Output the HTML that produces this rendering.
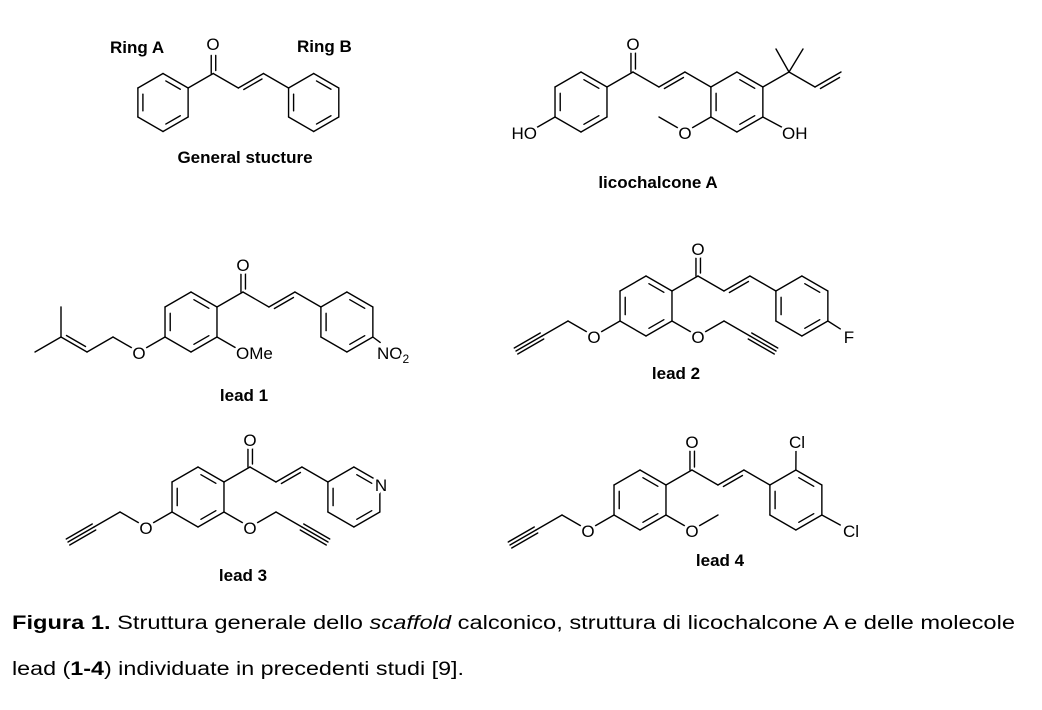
<!DOCTYPE html>
<html><head><meta charset="utf-8"><style>
html,body{margin:0;padding:0;background:#fff;}
svg{display:block}
text{font-family:"Liberation Sans",sans-serif;fill:#000}
.a{font-size:17px;paint-order:stroke;stroke:#fff;stroke-width:6px;stroke-linejoin:round}
.b{font-size:17px;font-weight:bold}
.c{font-size:19px}
</style></head><body>
<svg id="s" width="1042" height="710" viewBox="0 0 1042 710" xmlns="http://www.w3.org/2000/svg">
<g id="g" stroke="#000" stroke-width="1.4" fill="none" stroke-linecap="round"></g>
<text class="b" x="110" y="53">Ring A</text>
<text class="b" x="297" y="52">Ring B</text>
<text class="a" x="213" y="50" text-anchor="middle">O</text>
<text class="b" x="245" y="163" text-anchor="middle">General stucture</text>

<text class="a" x="633" y="50" text-anchor="middle">O</text>
<text class="a" x="537" y="139" text-anchor="end">HO</text>
<text class="a" x="685" y="139" text-anchor="middle">O</text>
<text class="a" x="782" y="139">OH</text>
<text class="b" x="658" y="188" text-anchor="middle">licochalcone A</text>

<text class="a" x="243" y="271" text-anchor="middle">O</text>
<text class="a" x="139" y="359" text-anchor="middle">O</text>
<text class="a" x="236" y="359">OMe</text>
<text class="a" x="377" y="359">NO<tspan font-size="12" dy="4">2</tspan></text>
<text class="b" x="244" y="401" text-anchor="middle">lead 1</text>

<text class="a" x="698" y="255" text-anchor="middle">O</text>
<text class="a" x="594" y="343" text-anchor="middle">O</text>
<text class="a" x="698" y="343" text-anchor="middle">O</text>
<text class="a" x="849" y="343" text-anchor="middle">F</text>
<text class="b" x="676" y="379" text-anchor="middle">lead 2</text>

<text class="a" x="250" y="446" text-anchor="middle">O</text>
<text class="a" x="146" y="534" text-anchor="middle">O</text>
<text class="a" x="250" y="534" text-anchor="middle">O</text>
<text class="a" x="381" y="491" text-anchor="middle">N</text>
<text class="b" x="243" y="581" text-anchor="middle">lead 3</text>

<text class="a" x="692" y="448" text-anchor="middle">O</text>
<text class="a" x="588" y="537" text-anchor="middle">O</text>
<text class="a" x="692" y="537" text-anchor="middle">O</text>
<text class="a" x="797" y="448" text-anchor="middle">Cl</text>
<text class="a" x="851" y="537" text-anchor="middle">Cl</text>
<text class="b" x="720" y="566" text-anchor="middle">lead 4</text>

<text class="c" x="12" y="629" textLength="1003" lengthAdjust="spacingAndGlyphs"><tspan font-weight="bold">Figura 1.</tspan> Struttura generale dello <tspan font-style="italic">scaffold</tspan> calconico, struttura di licochalcone A e delle molecole</text>
<text class="c" x="12" y="675" textLength="452" lengthAdjust="spacingAndGlyphs">lead (<tspan font-weight="bold">1-4</tspan>) individuate in precedenti studi [9].</text>
</svg>
<script>
const G=document.getElementById('g');
function L(x1,y1,x2,y2){const e=document.createElementNS('http://www.w3.org/2000/svg','line');e.setAttribute('x1',x1);e.setAttribute('y1',y1);e.setAttribute('x2',x2);e.setAttribute('y2',y2);G.appendChild(e);}
function B(p,q,sp,sq){sp=sp||0;sq=sq||0;const dx=q[0]-p[0],dy=q[1]-p[1],d=Math.hypot(dx,dy),ux=dx/d,uy=dy/d;L(p[0]+ux*sp,p[1]+uy*sp,q[0]-ux*sq,q[1]-uy*sq);}
function D(p,q,s){B(p,q);const dx=q[0]-p[0],dy=q[1]-p[1],d=Math.hypot(dx,dy),ux=dx/d,uy=dy/d,nx=-uy*4*s,ny=ux*4*s;L(p[0]+nx+ux*4,p[1]+ny+uy*4,q[0]+nx-ux*4,q[1]+ny-uy*4);}
function T(p,q){const dx=q[0]-p[0],dy=q[1]-p[1],d=Math.hypot(dx,dy),ux=dx/d,uy=dy/d,nx=-uy*3.5,ny=ux*3.5;for(const k of[-1,0,1])L(p[0]+nx*k,p[1]+ny*k,q[0]+nx*k,q[1]+ny*k);}
function V(c,l,a){const r=a*Math.PI/180;return[c[0]+l*Math.cos(r),c[1]+l*Math.sin(r)];}
function hex(c,l,ed){const v=[];for(let i=0;i<6;i++)v.push(V(c,l,-90+60*i));for(let i=0;i<6;i++){const a=v[i],b=v[(i+1)%6];L(a[0],a[1],b[0],b[1]);if(ed.includes(i)){const f=0.2,a2=[a[0]+(c[0]-a[0])*f,a[1]+(c[1]-a[1])*f],b2=[b[0]+(c[0]-b[0])*f,b[1]+(c[1]-b[1])*f];const t=0.14;L(a2[0]+(b2[0]-a2[0])*t,a2[1]+(b2[1]-a2[1])*t,b2[0]-(b2[0]-a2[0])*t,b2[1]-(b2[1]-a2[1])*t);}}return v;}
function chal(A,l){const dx=l*0.866,dy=l/2;const P1=[A[0]+dx,A[1]-dy],P2=[P1[0]+dx,P1[1]-dy],P3=[P2[0]+dx,P2[1]+dy],P4=[P3[0]+dx,P3[1]-dy],P5=[P4[0]+dx,P4[1]+dy];
const ra=hex(A,l,[0,2,4]);B(P1,P2);L(P2[0]-2,P2[1],P2[0]-2,P2[1]-l+11);L(P2[0]+2.5,P2[1]-3,P2[0]+2.5,P2[1]-l+11);B(P2,P3);D(P3,P4,1);B(P4,P5);const Bc=[P5[0]+dx,P5[1]+dy];const rb=hex(Bc,l,[0,2,4]);return{ra,rb,A,Bc};}
const s=7;
chal([163,102.5],29);
let m=chal([581,102],30);
B(V(m.A,30,150),[529,132],0,s);
B(V(m.Bc,30,150),[685,132],0,s);B([685,132],[659,117],s,0);
B(V(m.Bc,30,30),[787,130],0,6);
let q=[789,72];B(V(m.Bc,30,-30),q);B(q,[776,49]);B(q,[803,49]);B(q,[815,87]);D([815,87],[841,72],1);
m=chal([191,322],30);
B(V(m.A,30,150),[139,352],0,s);B([139,352],[113,337],s,0);B([113,337],[87,352]);D([87,352],[61,337],1);B([61,337],[61,307]);B([61,337],[35,352]);
B(V(m.A,30,30),[243,352],0,s);
B(V(m.Bc,30,30),[385,346],0,6);
m=chal([646,306],30);
B(V(m.A,30,150),[594,336],0,s);B([594,336],[568,321],s,0);B([568,321],[542,336]);T([542,336],[516,351]);
B(V(m.A,30,30),[698,336],0,s);B([698,336],[724,321],s,0);B([724,321],[750,336]);T([750,336],[776,351]);
B(V(m.Bc,30,30),[842,330],0,2);
m=chal([198,497],30);
B(V(m.A,30,150),[146,527],0,s);B([146,527],[120,512],s,0);B([120,512],[94,527]);T([94,527],[68,542]);
B(V(m.A,30,30),[250,527],0,s);B([250,527],[276,512],s,0);B([276,512],[302,527]);T([302,527],[328,542]);
m=chal([640,500],30);
B(V(m.A,30,150),[588,530],0,s);B([588,530],[562,515],s,0);B([562,515],[536,530]);T([536,530],[510,545]);
B(V(m.A,30,30),[692,530],0,s);B([692,530],[718,515],s,0);
B(V(m.Bc,30,-90),[796,448],0,0);
B(V(m.Bc,30,30),[842,526],0,2);
</script>
</body></html>
